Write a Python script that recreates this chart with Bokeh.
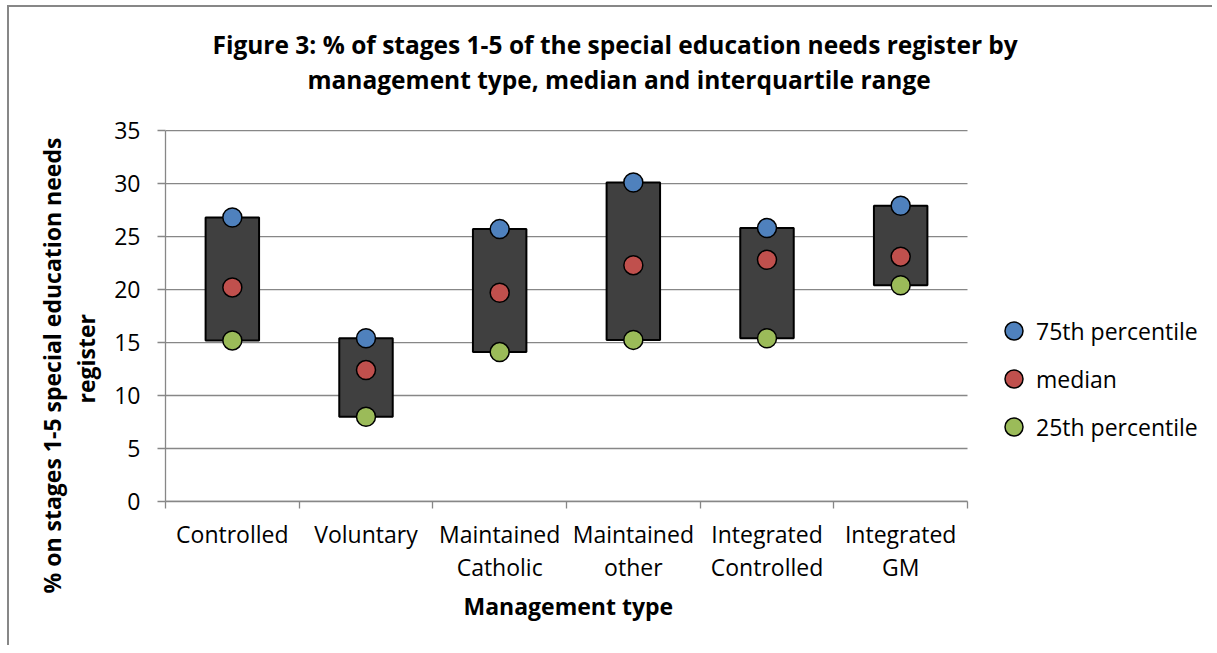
from bokeh.plotting import figure
from bokeh.models import (Range1d, FixedTicker, Legend, LegendItem, Title, ColumnDataSource)
from bokeh.embed import file_html
from bokeh.resources import INLINE

categories = ["Controlled", "Voluntary", "Maintained\nCatholic", "Maintained\nother",
              "Integrated\nControlled", "Integrated\nGM"]
p75 = [26.8, 15.4, 25.7, 30.1, 25.8, 27.9]
median = [20.2, 12.4, 19.7, 22.3, 22.8, 23.1]
p25 = [15.2, 8.0, 14.1, 15.25, 15.4, 20.4]
y_ticks = [0, 5, 10, 15, 20, 25, 30, 35]

FONT = "Open Sans"
N = len(categories)
x_pos = [i + 0.5 for i in range(N)]
src = ColumnDataSource(dict(x=x_pos, p75=p75, med=median, p25=p25))
grid_src = ColumnDataSource(dict(y=y_ticks, x0=[0] * len(y_ticks), x1=[N] * len(y_ticks)))

# layout: plotting area for the categories is 802 px wide; the frame extends right to hold the legend
W, H = 1205, 640
BL, BR, BT, BB = 156, 4, 122, 146
frame_w = W - BL - BR
x_end = N * frame_w / 802.0

p = figure(width=W, height=H, output_backend="svg", toolbar_location=None,
           x_range=Range1d(0, x_end), y_range=Range1d(0, 35.1),
           min_border_left=BL, min_border_top=BT, min_border_right=BR,
           min_border_bottom=BB)
p.styles = {"border-left": "2px solid #878787", "border-top": "2px solid #878787",
            "margin-left": "7px", "margin-top": "5px"}
p.outline_line_color = None
p.background_fill_color = "white"
p.border_fill_color = "white"
p.xgrid.visible = False
p.ygrid.visible = False

# horizontal gridlines over the category area only
p.segment(x0="x0", x1="x1", y0="y", y1="y", source=grid_src,
          line_color="#878787", line_width=1.3)

p.vbar(x="x", top="p75", bottom="p25", width=0.4, source=src,
       fill_color="#404040", line_color="black", line_width=2)
r75 = p.scatter("x", "p75", source=src, size=19, fill_color="#4F81BD",
                line_color="black", line_width=1.5)
rmed = p.scatter("x", "med", source=src, size=19, fill_color="#C0504D",
                 line_color="black", line_width=1.5)
r25 = p.scatter("x", "p25", source=src, size=19, fill_color="#9BBB59",
                line_color="black", line_width=1.5)

# y axis
p.yaxis.bounds = (0, 35)
p.yaxis.ticker = FixedTicker(ticks=y_ticks, minor_ticks=[])
p.yaxis.axis_line_color = "#878787"
p.yaxis.axis_line_width = 1.3
p.yaxis.major_tick_line_color = "#878787"
p.yaxis.major_tick_line_width = 1.3
p.yaxis.major_tick_out = 8
p.yaxis.major_tick_in = 0
p.yaxis.minor_tick_line_color = None
p.yaxis.major_label_standoff = 17
p.yaxis.major_label_text_font = FONT
p.yaxis.major_label_text_font_size = "23px"
p.yaxis.major_label_text_color = "black"

# x axis
p.xaxis.bounds = (0, N)
p.xaxis.ticker = FixedTicker(ticks=x_pos, minor_ticks=list(range(N + 1)))
p.xaxis.major_label_overrides = {x: c for x, c in zip(x_pos, categories)}
p.xaxis.axis_line_color = "#878787"
p.xaxis.axis_line_width = 1.3
p.xaxis.major_tick_line_color = None
p.xaxis.major_tick_out = 0
p.xaxis.major_tick_in = 0
p.xaxis.minor_tick_line_color = "#878787"
p.xaxis.minor_tick_line_width = 1.3
p.xaxis.minor_tick_out = 7
p.xaxis.minor_tick_in = 0
p.xaxis.major_label_standoff = 9
p.xaxis.major_label_text_font = FONT
p.xaxis.major_label_text_font_size = "23px"
p.xaxis.major_label_text_color = "black"
p.xaxis.major_label_text_line_height = 1.05

# x-axis title
p.add_layout(Title(text="Management type", align="left", offset=298, text_font=FONT,
                   text_font_size="23px", text_font_style="bold", text_color="black",
                   standoff=2), "below")

# chart title: spacer, then second line, then first line
title_lines = ["Figure 3: % of stages 1-5 of the special education needs register by",
               "management type, median and interquartile range"]
p.add_layout(Title(text=" ", text_font_size="1px", standoff=31), "above")
p.add_layout(Title(text=title_lines[1], align="left", offset=142, text_font=FONT,
                   text_font_size="24.5px", text_font_style="bold", text_color="black",
                   standoff=0), "above")
p.add_layout(Title(text=title_lines[0], align="left", offset=47, text_font=FONT,
                   text_font_size="24.5px", text_font_style="bold", text_color="black",
                   standoff=0), "above")

# y-axis title, two lines
ylab = ["% on stages 1-5 special education needs", "register"]
p.add_layout(Title(text=" ", text_font_size="1px", standoff=7), "left")
p.add_layout(Title(text=ylab[1], align="left", offset=98, text_font=FONT,
                   text_font_size="23px", text_font_style="bold", text_color="black",
                   standoff=0), "left")
p.add_layout(Title(text=ylab[0], align="left", offset=-92, text_font=FONT,
                   text_font_size="23px", text_font_style="bold", text_color="black",
                   standoff=0), "left")

legend = Legend(items=[LegendItem(label="75th percentile", renderers=[r75]),
                       LegendItem(label="median", renderers=[rmed]),
                       LegendItem(label="25th percentile", renderers=[r25])],
                location=(826, 52), orientation="vertical",
                glyph_width=45, glyph_height=45, label_height=45, spacing=3,
                padding=0, margin=0, label_standoff=0,
                label_text_font=FONT, label_text_font_size="23px",
                label_text_color="black", border_line_color=None,
                background_fill_alpha=0)
p.add_layout(legend, "center")

open("out.html", "w").write(file_html(p, INLINE))
